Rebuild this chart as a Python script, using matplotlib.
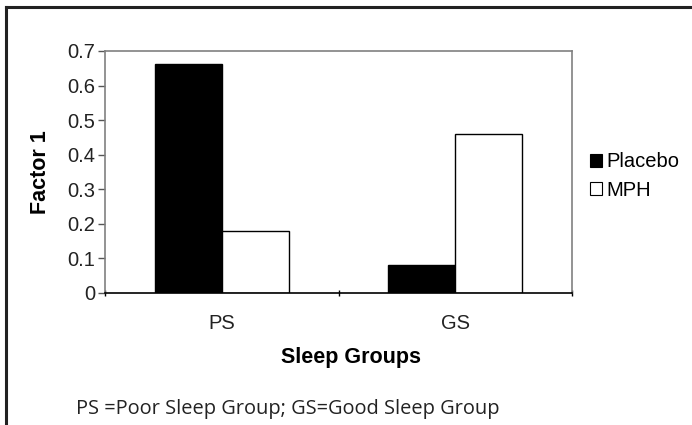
import numpy as np
import matplotlib.pyplot as plt
from matplotlib.lines import Line2D
from matplotlib.patches import Patch

groups = ['PS', 'GS']
placebo = [0.662, 0.081]
mph = [0.178, 0.459]
series_names = ['Placebo', 'MPH']
y_ticks = [0, 0.1, 0.2, 0.3, 0.4, 0.5, 0.6, 0.7]
footnote = 'PS =Poor Sleep Group; GS=Good Sleep Group'

plt.rcParams['font.family'] = ['Liberation Sans', 'DejaVu Sans']

fig = plt.figure(figsize=(6.92, 4.25), dpi=100)
ax = fig.add_axes([105 / 692, 1 - 293 / 425, 467 / 692, 242 / 425])

x = np.arange(len(groups))
w = 0.287
ax.bar(x - w / 2, placebo, w, color='black', edgecolor='black', linewidth=1)
ax.bar(x + w / 2, mph, w, color='white', edgecolor='black', linewidth=1)

ax.set_xlim(-0.5, 1.5)
ax.set_ylim(0, 0.7)
ax.set_yticks(y_ticks)
ax.set_yticklabels([f'{t:g}' for t in y_ticks], fontsize=14.5, color='#222222')
ax.tick_params(axis='y', length=5, width=1, color='#555555', pad=2)

# x ticks sit between the categories, labels at the centres
ax.set_xticks([-0.5, 0.5, 1.5])
ax.set_xticklabels([])
ax.set_xticks(x, minor=True)
ax.set_xticklabels(groups, minor=True, fontsize=14.5, color='#222222')
ax.tick_params(axis='x', which='major', length=5, width=1, color='black', direction='inout')
ax.tick_params(axis='x', which='minor', length=0, pad=15)

for side in ['top', 'right', 'left']:
    ax.spines[side].set_color('#808080')
    ax.spines[side].set_linewidth(1.2)
ax.spines['bottom'].set_color('black')
ax.spines['bottom'].set_linewidth(1.2)

ax.set_ylabel('Factor 1', fontsize=15.5, fontweight='bold', va='center')
ax.yaxis.set_label_coords((40 - 105) / 467, 0.5)
ax.set_xlabel('Sleep Groups', fontsize=15.5, fontweight='bold', va='center')
ax.xaxis.set_label_coords((351 - 105) / 467, (293 - 358) / 242)

handles = [Patch(facecolor='black', edgecolor='black', linewidth=0.8),
           Patch(facecolor='white', edgecolor='black', linewidth=0.8)]
fig.legend(handles, series_names, loc='center left', bbox_to_anchor=(590 / 692, 1 - 176 / 425),
           frameon=False, fontsize=14.5, handlelength=0.6, handleheight=0.6,
           handletextpad=0.2, labelspacing=0.45, borderaxespad=0, borderpad=0)

fig.text(76 / 692, 1 - 409 / 425, footnote, fontsize=14.4, family=['Open Sans', 'DejaVu Sans'],
         va='center', ha='left', color='#222222')

# outer box: left and top edges only
fig.add_artist(Line2D([6 / 692, 6 / 692], [0, 1 - 7 / 425], color='#222222', linewidth=2.2,
                      transform=fig.transFigure))
fig.add_artist(Line2D([6 / 692, 1], [1 - 7 / 425, 1 - 7 / 425], color='#222222', linewidth=2.2,
                      transform=fig.transFigure))

fig.savefig('out.png', dpi=100)
